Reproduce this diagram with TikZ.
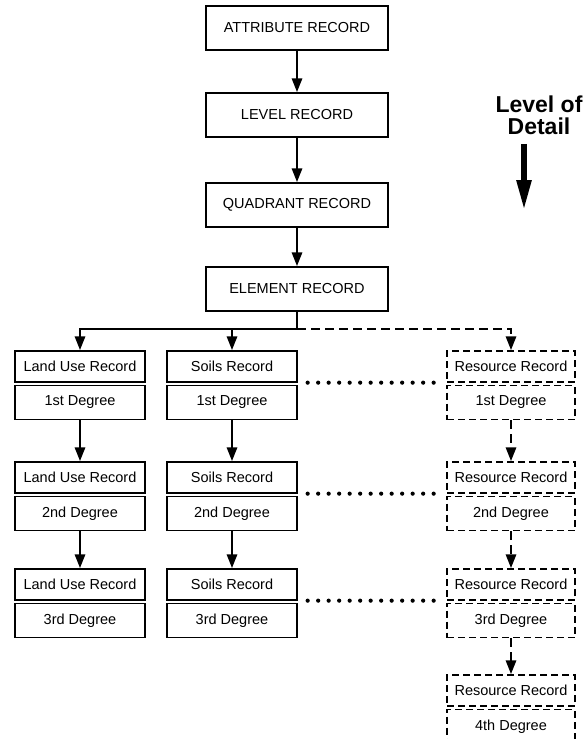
\documentclass[tikz,border=0pt]{standalone}
\usepackage{fontspec}
\setmainfont{Liberation Sans}
\usepackage{tikz}
\usetikzlibrary{arrows.meta,positioning}

\begin{document}
\begin{tikzpicture}[
  x=1pt, y=-1pt,
  every node/.style={font=\fontsize{14.5}{17}\selectfont},
  recbox/.style={rectangle, draw, line width=1.3pt, minimum width=182pt,
    minimum height=44pt, inner sep=0pt},
  part/.style={rectangle, draw, line width=1.3pt, minimum width=130pt,
    inner sep=0pt},
  head/.style={part, minimum height=31pt},
  deg/.style={part, minimum height=34pt},
  dpart/.style={dash pattern=on 7pt off 4pt, minimum width=128pt},
  link/.style={-{Triangle[length=14pt,width=10pt]}, line width=2.9pt},
  dlink/.style={link, dash pattern=on 9pt off 5pt},
  dots/.style={line width=4.2pt, line cap=round, dash pattern=on 0pt off 10.5pt,
    shorten <=10pt, shorten >=6pt},
  lodstyle/.style={font=\fontsize{23}{22}\selectfont\bfseries, align=center},
]
\useasboundingbox (0,0) rectangle (587,739);

% upper records
\node[recbox] at (297,28) (attr) {ATTRIBUTE RECORD};
\node[recbox] at (297,115) (level) {LEVEL RECORD};
\node[recbox] at (297,205) (quad) {QUADRANT RECORD};
\node[recbox] at (297,289) (elem) {ELEMENT RECORD};

% level of detail
\node[lodstyle] at (539,115) (lod) {Level of\\Detail};
\coordinate (lodend) at (524,210);

% row 1
\node[head] at (80,366.5) (lu1) {Land Use Record};
\node[deg, below=2.2pt of lu1] (lu1d) {1st Degree};
\node[head] at (232,366.5) (soil1) {Soils Record};
\node[deg, below=2.2pt of soil1] (soil1d) {1st Degree};
\node[head, dpart] at (511,366.5) (res1) {Resource Record};
\node[deg, dpart, below=2.2pt of res1] (res1d) {1st Degree};

% row 2
\node[head] at (80,477.5) (lu2) {Land Use Record};
\node[deg, below=2.2pt of lu2] (lu2d) {2nd Degree};
\node[head] at (232,477.5) (soil2) {Soils Record};
\node[deg, below=2.2pt of soil2] (soil2d) {2nd Degree};
\node[head, dpart] at (511,477.5) (res2) {Resource Record};
\node[deg, dpart, below=2.2pt of res2] (res2d) {2nd Degree};

% row 3
\node[head] at (80,584.5) (lu3) {Land Use Record};
\node[deg, below=2.2pt of lu3] (lu3d) {3rd Degree};
\node[head] at (232,584.5) (soil3) {Soils Record};
\node[deg, below=2.2pt of soil3] (soil3d) {3rd Degree};
\node[head, dpart] at (511,584.5) (res3) {Resource Record};
\node[deg, dpart, below=2.2pt of res3] (res3d) {3rd Degree};

% row 4
\node[head, dpart] at (511,690.5) (res4) {Resource Record};
\node[deg, dpart, below=2.2pt of res4] (res4d) {4th Degree};

% record chain
\draw[link] (attr) -- (level);
\draw[link] (level) -- (quad);
\draw[link] (quad) -- (elem);

% branch
\coordinate (branch) at (297,329);
\draw[line width=2.9pt] (elem.south) -- (branch);
\draw[link] (branch) -| (lu1.north);
\draw[link] (branch) -| (soil1.north);
\draw[dlink] (branch) -| (res1.north);

% degrees
\draw[link] (lu1d) -- (lu2);
\draw[link] (lu2d) -- (lu3);
\draw[link] (soil1d) -- (soil2);
\draw[link] (soil2d) -- (soil3);
\draw[dlink] (res1d) -- (res2);
\draw[dlink] (res2d) -- (res3);
\draw[dlink] (res3d) -- (res4);

% dotted links
\draw[dots] (soil1.south east) -- (res1.south west);
\draw[dots] (soil2.south east) -- (res2.south west);
\draw[dots] (soil3.south east) -- (res3.south west);

% level of detail arrow
\draw[-{Triangle[length=30pt,width=14pt]}, line width=5.5pt]
  (lod.south -| lodend) ++(0,6) -- (lodend);

\end{tikzpicture}
\end{document}
